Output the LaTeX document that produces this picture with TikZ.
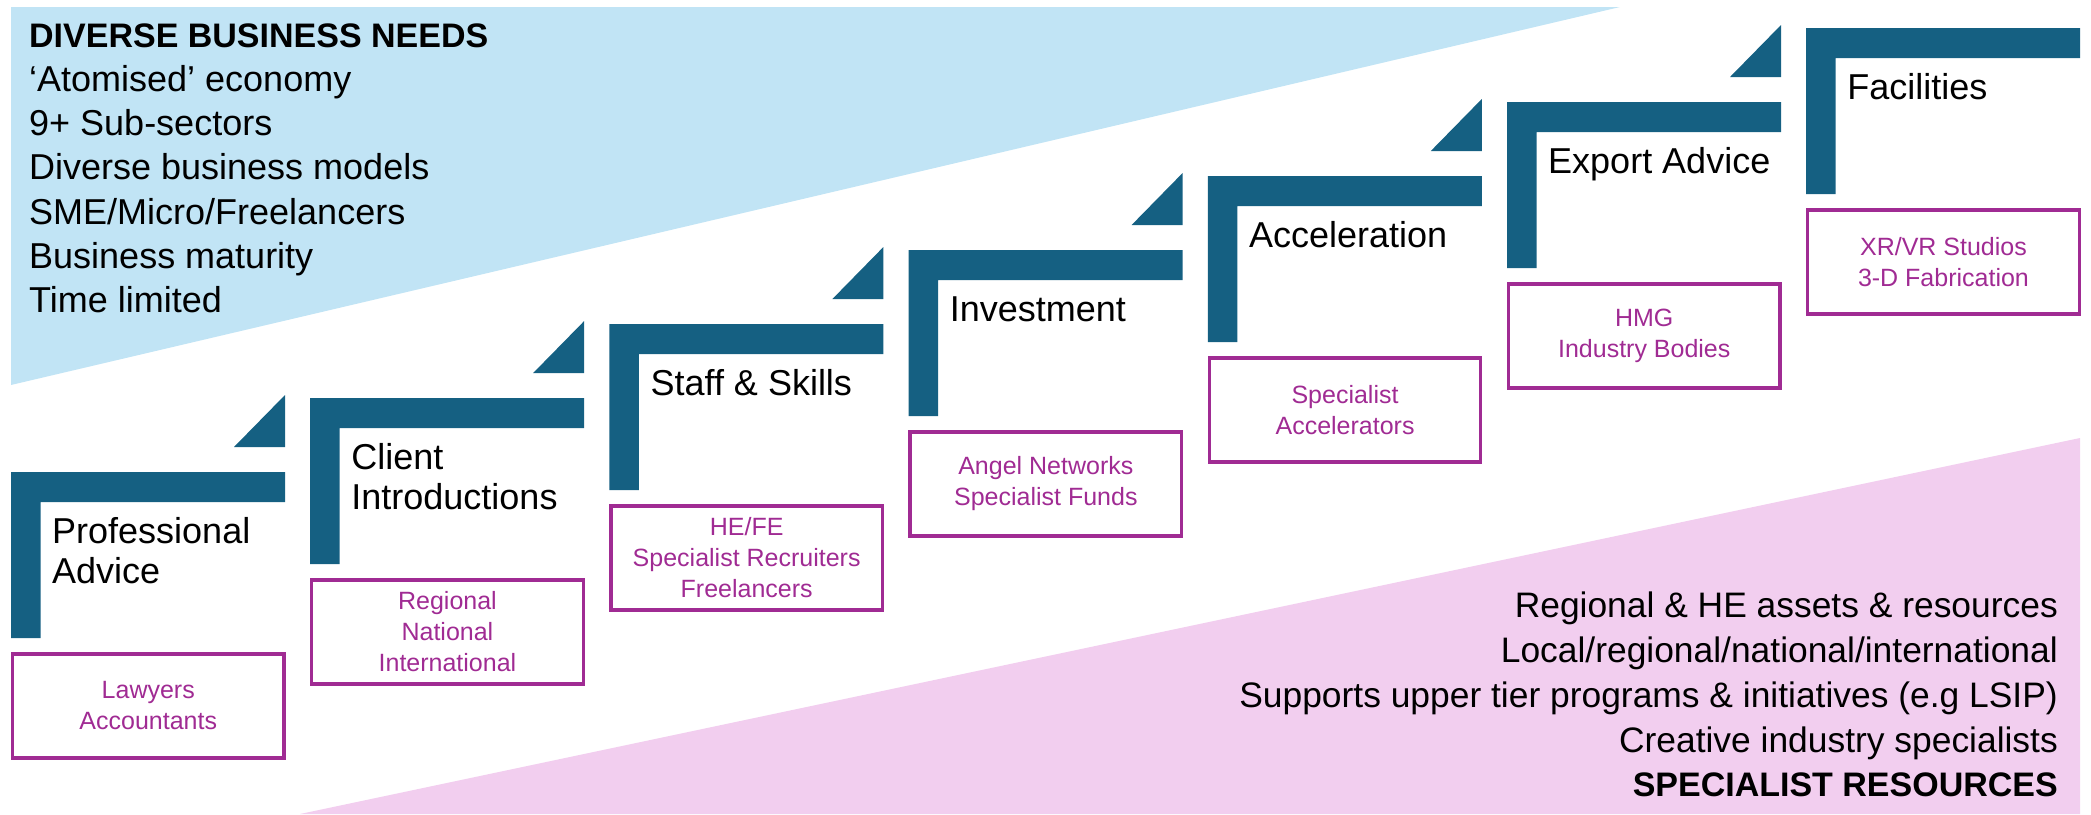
\documentclass[tikz,border=0pt]{standalone}
\usepackage{fontspec}
\setmainfont{Liberation Sans}
\definecolor{bar}{HTML}{156082}
\definecolor{lblue}{HTML}{C1E4F5}
\definecolor{lpink}{HTML}{F2CEEF}
\definecolor{mag}{HTML}{A02B93}
\begin{document}
\begin{tikzpicture}[x=1pt,y=-1pt,
  steplabel/.style={anchor=base west,inner sep=0pt,font=\fontsize{36}{40}\selectfont,text=black},
  needtext/.style={anchor=base west,inner sep=0pt,font=\fontsize{36}{44}\selectfont,text=black},
  restext/.style={anchor=base east,inner sep=0pt,font=\fontsize{35.4}{44}\selectfont,text=black},
  resbox/.style={draw=mag,line width=3.3pt,text=mag,align=center,inner sep=0pt,
    minimum width=271.5pt,minimum height=104pt,font=\fontsize{25}{31}\selectfont}]
\useasboundingbox (0,0) rectangle (2091,814);
% background wedges
\fill[lblue] (11,7) -- (1620,7) -- (11,385) -- cycle;
\fill[lpink] (300,814) -- (2080,438) -- (2080,814) -- cycle;
% steps
\foreach \i in {0,...,6}{
  \pgfmathsetmacro\xx{11+299.2*\i}
  \pgfmathsetmacro\yy{472-74*\i}
  \fill[bar] (\xx,\yy) -- ++(274,0) -- ++(0,30) -- ++(-244.5,0) -- ++(0,136) -- ++(-29.5,0) -- cycle;
  \ifnum\i<6
    \fill[bar] (\xx+223,\yy-25) -- (\xx+274,\yy-25) -- (\xx+274,\yy-77) -- cycle;
  \fi
}
% step labels
\node[steplabel] (l1a) at (52,543) {Professional};
\node[steplabel] (l1b) at (52,583) {Advice};
\node[steplabel] (l2a) at (351.2,469) {Client};
\node[steplabel] (l2b) at (351.2,509) {Introductions};
\node[steplabel] (l3) at (650.4,395) {Staff \& Skills};
\node[steplabel] (l4) at (949.6,321) {Investment};
\node[steplabel] (l5) at (1248.8,247) {Acceleration};
\node[steplabel] (l6) at (1548,173) {Export Advice};
\node[steplabel] (l7) at (1847.2,99) {Facilities};
% resource boxes
\node[resbox] (b1) at (148.25,706) {Lawyers\\Accountants};
\node[resbox] (b2) at (447.45,632) {Regional\\National\\International};
\node[resbox] (b3) at (746.65,558) {HE/FE\\Specialist Recruiters\\Freelancers};
\node[resbox] (b4) at (1045.85,484) {Angel Networks\\Specialist Funds};
\node[resbox] (b5) at (1345.05,410) {Specialist\\Accelerators};
\node[resbox] (b6) at (1644.25,336) {HMG\\Industry Bodies};
\node[resbox] (b7) at (1943.45,262) {XR/VR Studios\\3-D Fabrication};
% business needs
\node[needtext,font=\fontsize{34}{44}\selectfont\bfseries] (n0) at (29,47) {DIVERSE BUSINESS NEEDS};
\node[needtext] (n1) at (29,91) {‘Atomised’ economy};
\node[needtext] (n2) at (29,135) {9+ Sub-sectors};
\node[needtext] (n3) at (29,179) {Diverse business models};
\node[needtext] (n4) at (29,224) {SME/Micro/Freelancers};
\node[needtext] (n5) at (29,268) {Business maturity};
\node[needtext] (n6) at (29,312) {Time limited};
% specialist resources
\node[restext] (r1) at (2058,617) {Regional \& HE assets \& resources};
\node[restext] (r2) at (2058,662) {Local/regional/national/international};
\node[restext] (r3) at (2058,707) {Supports upper tier programs \& initiatives (e.g LSIP)};
\node[restext] (r4) at (2058,752) {Creative industry specialists};
\node[restext,font=\fontsize{34}{44}\selectfont\bfseries] (r5) at (2058,796) {SPECIALIST RESOURCES};
\end{tikzpicture}
\end{document}
